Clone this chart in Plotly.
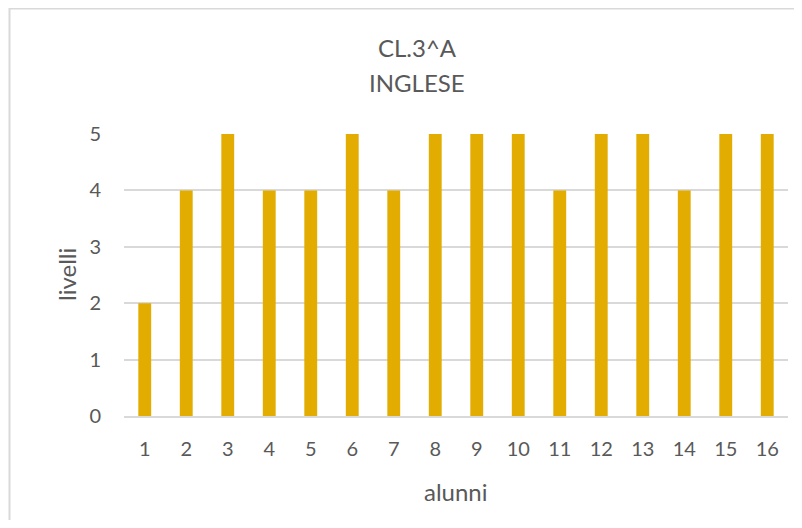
import plotly.graph_objects as go

alunni = [str(i) for i in range(1, 17)]
livelli = [2, 4, 5, 4, 4, 5, 4, 5, 5, 5, 4, 5, 5, 4, 5, 5]
title_lines = ["CL.3^A", "INGLESE"]
x_title = "alunni"
y_title = "livelli"

# page has an 8px body margin: figure occupies screen (8..794, 8..520)
OFF = 8
W, H = 786, 512
L, R, T, B = 116, 6, 126, 104
pw, ph = W - L - R, H - T - B

font = "Lato, 'Open Sans', sans-serif"
gray = "#595959"
line_gray = "#D9D9D9"


def px_x(sx):
    """screen x -> paper x"""
    return (sx - OFF - L) / pw


def px_y(sy):
    """screen y -> paper y"""
    return (H - B - (sy - OFF)) / ph


fig = go.Figure(go.Bar(x=alunni, y=livelli, marker_color="#E2AC00", marker_line_width=0))

fig.update_layout(
    width=W, height=H,
    margin=dict(l=L, r=R, t=T, b=B, autoexpand=False),
    paper_bgcolor="white", plot_bgcolor="white",
    bargap=0.69,
    showlegend=False,
    font=dict(family=font, color=gray, size=20),
    xaxis=dict(type="category", showgrid=False, showline=True, linecolor=line_gray,
               linewidth=2, ticks="", ticklabelstandoff=14,
               tickfont=dict(size=20, color=gray)),
    yaxis=dict(range=[0, 5], dtick=1, showgrid=True, gridcolor=line_gray, gridwidth=2,
               zeroline=False, showline=False, ticks="", ticklabelstandoff=22,
               tickfont=dict(size=20, color=gray)),
    shapes=[dict(type="rect", xref="paper", yref="paper",
                 x0=px_x(9.5), x1=px_x(830), y0=px_y(560), y1=px_y(8.5),
                 line=dict(color=line_gray, width=2), fillcolor="rgba(0,0,0,0)", layer="below")],
    annotations=[
        dict(text=title_lines[0], xref="paper", yref="paper", x=px_x(417), y=px_y(48),
             xanchor="center", yanchor="middle", showarrow=False,
             font=dict(size=24, color=gray, family=font)),
        dict(text=title_lines[1], xref="paper", yref="paper", x=px_x(417), y=px_y(83),
             xanchor="center", yanchor="middle", showarrow=False,
             font=dict(size=24, color=gray, family=font)),
        dict(text=x_title, xref="paper", yref="paper", x=px_x(456), y=px_y(491),
             xanchor="center", yanchor="middle", showarrow=False,
             font=dict(size=24, color=gray, family=font)),
        dict(text=y_title, xref="paper", yref="paper", x=px_x(66), y=px_y(275),
             xanchor="center", yanchor="middle", showarrow=False, textangle=-90,
             font=dict(size=24, color=gray, family=font)),
    ],
)

fig.write_html("out.html")
